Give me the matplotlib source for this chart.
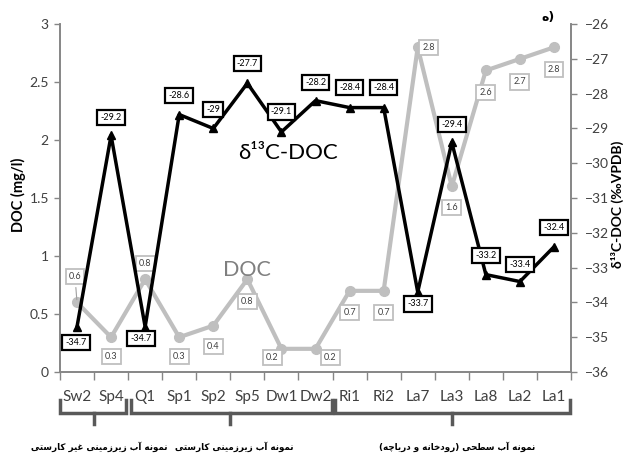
import matplotlib
matplotlib.use("Agg")
import matplotlib.pyplot as plt
from matplotlib import font_manager
from matplotlib.ft2font import FT2Font

plt.rcParams['font.family'] = ['Lato', 'DejaVu Sans']

# Donnees
samples = ["Sw2", "Sp4", "Q1", "Sp1", "Sp2", "Sp5", "Dw1", "Dw2",
           "Ri1", "Ri2", "La7", "La3", "La8", "La2", "La1"]
doc = [0.6, 0.3, 0.8, 0.3, 0.4, 0.8, 0.2, 0.2, 0.7, 0.7, 2.8, 1.6, 2.6, 2.7, 2.8]
d13c = [-34.7, -29.2, -34.7, -28.6, -29, -27.7, -29.1, -28.2,
        -28.4, -28.4, -33.7, -29.4, -33.2, -33.4, -32.4]
groups = ["نمونه آب زیرزمینی غیر کارستی",
          "نمونه آب زیرزمینی کارستی",
          "نمونه آب سطحی (رودخانه و دریاچه)"]
group_spans = [(-0.5, 1.45), (1.58, 7.47), (7.56, 14.47)]
group_mid = [0.5, 4.5, 11]
group_text_x = [0.65, 4.62, 11.15]

# decalage des etiquettes (pixels)
doc_off = [(-2, 26), (0, -19), (0, 16), (0, -19), (0, -21), (0, -22), (-9, -9),
           (15, -9), (0, -22), (0, -22), (11, 0), (0, -21), (0, -22), (0, -23), (0, -22)]
d13c_off = [(-1, -16), (0, 18), (-4, -12), (0, 19), (0, 19), (0, 20), (0, 20),
            (0, 18), (0, 20), (0, 20), (0, -12), (0, 18), (0, 19), (0, 17), (0, 19)]

# Mise en forme du texte persan (formes de presentation + ordre visuel)
FORMS = {
    'ا': (0xFE8D, 0xFE8E), 'آ': (0xFE81, 0xFE82), 'د': (0xFEA9, 0xFEAA),
    'ر': (0xFEAD, 0xFEAE), 'ز': (0xFEAF, 0xFEB0), 'و': (0xFEED, 0xFEEE),
    'ب': (0xFE8F, 0xFE90, 0xFE91, 0xFE92), 'ت': (0xFE95, 0xFE96, 0xFE97, 0xFE98),
    'ح': (0xFEA1, 0xFEA2, 0xFEA3, 0xFEA4), 'خ': (0xFEA5, 0xFEA6, 0xFEA7, 0xFEA8),
    'س': (0xFEB1, 0xFEB2, 0xFEB3, 0xFEB4), 'ط': (0xFEC1, 0xFEC2, 0xFEC3, 0xFEC4),
    'غ': (0xFECD, 0xFECE, 0xFECF, 0xFED0), 'م': (0xFEE1, 0xFEE2, 0xFEE3, 0xFEE4),
    'ن': (0xFEE5, 0xFEE6, 0xFEE7, 0xFEE8), 'ه': (0xFEE9, 0xFEEA, 0xFEEB, 0xFEEC),
    'ی': (0xFBFC, 0xFBFD, 0xFBFE, 0xFBFF), 'ک': (0xFB8E, 0xFB8F, 0xFB90, 0xFB91),
    'چ': (0xFB7A, 0xFB7B, 0xFB7C, 0xFB7D),
}
SUBST = {
    'ی': (0xFEEF, 0xFEF0, 0xFEF3, 0xFEF4),
    'ک': (0xFED9, 0xFEDA, 0xFEDB, 0xFEDC),
    'چ': (0xFE9D, 0xFE9E, 0xFE9F, 0xFEA0),
}

ar_weight = 'bold'
path = font_manager.findfont(font_manager.FontProperties(family='DejaVu Sans', weight='bold'))
cmap = FT2Font(path).get_charmap()
if 0xFEE7 not in cmap:
    ar_weight = 'normal'
    path = font_manager.findfont(font_manager.FontProperties(family='DejaVu Sans'))
    cmap = FT2Font(path).get_charmap()


def shape_rtl(text):
    out = []
    for i, ch in enumerate(text):
        forms = FORMS.get(ch)
        if forms is None:
            out.append(ch)
            continue
        prev = text[i - 1] if i > 0 else ''
        nxt = text[i + 1] if i + 1 < len(text) else ''
        link_prev = prev in FORMS and len(FORMS[prev]) == 4
        link_next = len(forms) == 4 and nxt in FORMS
        k = 3 if (link_prev and link_next) else 1 if link_prev else 2 if link_next else 0
        code = forms[k]
        if code not in cmap and ch in SUBST:
            code = SUBST[ch][k]
        out.append(chr(code))
    s = ''.join(reversed(out))
    return s.translate(str.maketrans('()', ')('))


grey = '#bfbfbf'
spine = '#868686'
tickc = '#404040'

fig = plt.figure(figsize=(6.26, 4.59), dpi=100)
ax = fig.add_axes([0.0958, 0.1895, 0.8164, 0.758])
ax2 = ax.twinx()

x = list(range(len(samples)))

ax.plot(x, doc, color=grey, lw=3, marker='o', ms=7, zorder=2)
ax2.plot(x, d13c, color='black', lw=2.5, marker='^', ms=6, zorder=2)

ax.set_xlim(-0.5, len(samples) - 0.5)
ax.set_ylim(0, 3)
ax2.set_ylim(-36, -26)
ax.set_yticks([0, 0.5, 1, 1.5, 2, 2.5, 3])
ax.set_yticklabels(['0', '0.5', '1', '1.5', '2', '2.5', '3'])
ax2.set_yticks(range(-36, -25))

ax.set_xticks(x)
ax.set_xticklabels(samples)
ax.set_xticks([i - 0.5 for i in range(len(samples) + 1)], minor=True)
ax.tick_params(axis='x', which='major', length=0, pad=13, labelsize=11, labelcolor=tickc)
ax.tick_params(axis='x', which='minor', length=6, width=1, color=spine, direction='out')
ax.tick_params(axis='y', length=4, width=1, color=spine, labelsize=10, labelcolor=tickc, pad=4)
ax2.tick_params(axis='y', length=4, width=1, color=spine, labelsize=10, labelcolor=tickc, pad=6)

for a in (ax, ax2):
    a.spines['top'].set_visible(False)
    for s in ('left', 'right', 'bottom'):
        a.spines[s].set_color(spine)
        a.spines[s].set_linewidth(1.2)

# etiquettes de valeurs
for i, v in enumerate(doc):
    dx, dy = doc_off[i]
    ax.annotate(f"{v:g}", xy=(i, v), xytext=(dx, dy), textcoords='offset pixels',
                ha='center', va='center', fontsize=6.5, color=tickc, zorder=5,
                bbox=dict(boxstyle='square,pad=0.35', fc='white', ec=grey, lw=1.3),
                arrowprops=dict(arrowstyle='-', color='#a0a0a0', lw=0.8) if i == 0 else None)

for i, v in enumerate(d13c):
    dx, dy = d13c_off[i]
    ax2.annotate(f"{v:g}", xy=(i, v), xytext=(dx, dy), textcoords='offset pixels',
                 ha='center', va='center', fontsize=6.5, color='black', zorder=6,
                 bbox=dict(boxstyle='square,pad=0.35', fc='white', ec='black', lw=1.6))

ax2.text(6.2, -29.7, "δ¹³C-DOC", fontsize=16, ha='center', va='center', color='black')
ax.text(5.0, 0.88, "DOC", fontsize=15.5, ha='center', va='center', color='#7f7f7f')

fig.text(0.029, 0.575, "DOC (mg/l)", rotation=90, ha='center', va='center',
         fontsize=10.5, fontweight='bold', color='black')
fig.text(0.986, 0.555, "δ¹³C-DOC (‰VPDB)", rotation=90, ha='center', va='center',
         fontsize=10, fontweight='bold', color='black')

# accolades des groupes
tr = ax.get_xaxis_transform()
for (x0, x1), xm in zip(group_spans, group_mid):
    ax.plot([x0, x0, x1, x1], [-0.08, -0.118, -0.118, -0.08], transform=tr,
            color='#595959', lw=2.5, clip_on=False, solid_joinstyle='miter')
    ax.plot([xm, xm], [-0.118, -0.148], transform=tr, color='#595959', lw=2.5,
            clip_on=False)

for g, gx in zip(groups, group_text_x):
    ax.text(gx, -0.216, shape_rtl(g), transform=tr, ha='center', va='center',
            fontsize=6.3, fontweight=ar_weight, family='DejaVu Sans', color='black')

fig.text(548 / 626, 1 - 17 / 459, shape_rtl("(ه"), ha='center', va='center',
         fontsize=9, fontweight=ar_weight, family='DejaVu Sans', color='black')

fig.savefig("out.png", dpi=100)
